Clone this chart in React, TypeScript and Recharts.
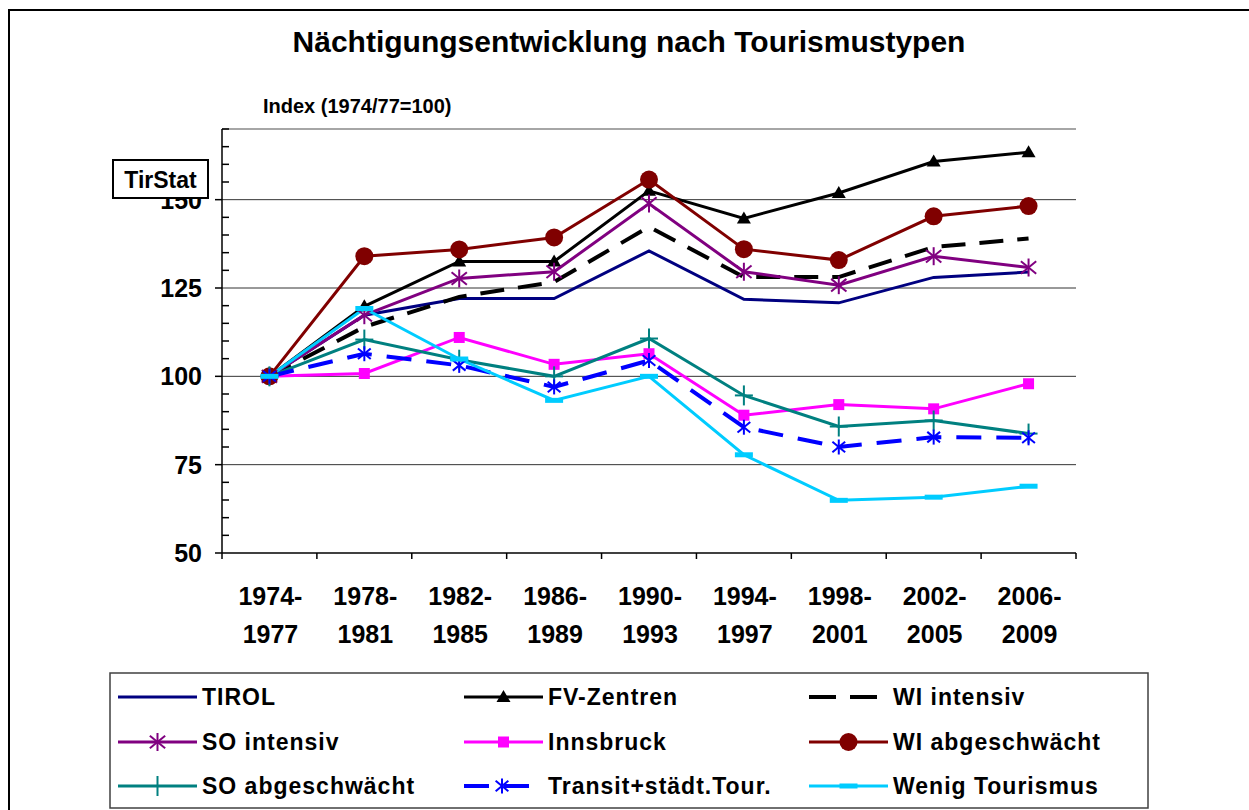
import React from 'react';
import { LineChart, Line, XAxis, YAxis, ReferenceLine } from 'recharts';

const periods = ['1974-1977', '1978-1981', '1982-1985', '1986-1989', '1990-1993', '1994-1997', '1998-2001', '2002-2005', '2006-2009'];

const tirol = [100, 117.3, 122, 122, 135.5, 121.8, 120.8, 128, 129.5];
const fvZentren = [100, 119.8, 132.5, 132.5, 152.5, 144.7, 151.9, 160.8, 163.4];
const wiIntensiv = [100, 114, 122.5, 126.7, 142.3, 128.1, 128.1, 136.6, 139];
const soIntensiv = [100, 117.3, 127.7, 129.6, 148.9, 129.6, 125.8, 134, 130.8];
const innsbruck = [100, 100.8, 111, 103.4, 106.4, 89, 92, 90.8, 97.9];
const wiAbgeschwaecht = [100, 134, 135.9, 139.3, 155.7, 136, 132.9, 145.3, 148.2];
const soAbgeschwaecht = [100, 110.4, 104.7, 100, 110.7, 94.6, 85.8, 87.5, 83.8];
const transit = [100, 106.4, 103.1, 97, 104.5, 85.6, 80, 82.8, 82.6];
const wenigTourismus = [100, 119.2, 104.9, 93.2, 100, 77.8, 64.9, 65.8, 68.9];

const yTicks = [50, 55, 60, 65, 70, 75, 80, 85, 90, 95, 100, 105, 110, 115, 120, 125, 130, 135, 140, 145, 150, 155, 160, 165, 170];
const yLabelTicks = [50, 75, 100, 125, 150];
const gridValues = [75, 100, 125, 150];
const yMax = 170;

const TITLE = 'Nächtigungsentwicklung nach Tourismustypen';
const SUBTITLE = 'Index (1974/77=100)';
const BADGE = 'TirStat';

type Series = { key: string; name: string; values: number[]; color: string; width: number; dash?: string; marker: string };

const series: Series[] = [
  { key: 'tirol', name: 'TIROL', values: tirol, color: '#000080', width: 3, marker: 'none' },
  { key: 'fv', name: 'FV-Zentren', values: fvZentren, color: '#000000', width: 3, marker: 'triangle' },
  { key: 'wiInt', name: 'WI intensiv', values: wiIntensiv, color: '#000000', width: 4, dash: '24 14', marker: 'none' },
  { key: 'soInt', name: 'SO intensiv', values: soIntensiv, color: '#800080', width: 3, marker: 'star' },
  { key: 'ibk', name: 'Innsbruck', values: innsbruck, color: '#FF00FF', width: 3, marker: 'square' },
  { key: 'wiAbg', name: 'WI abgeschwächt', values: wiAbgeschwaecht, color: '#800000', width: 3, marker: 'circle' },
  { key: 'soAbg', name: 'SO abgeschwächt', values: soAbgeschwaecht, color: '#008080', width: 3, marker: 'plus' },
  { key: 'transit', name: 'Transit+städt.Tour.', values: transit, color: '#0000FF', width: 4, dash: '25 15', marker: 'asterisk' },
  { key: 'wenig', name: 'Wenig Tourismus', values: wenigTourismus, color: '#00CCFF', width: 3, marker: 'dash' },
];

const data = periods.map((p, i) => {
  const row: Record<string, any> = { period: p };
  series.forEach((s) => { row[s.key] = s.values[i]; });
  return row;
});

const FONT = '"Liberation Sans", Arial, sans-serif';

function Marker({ type, cx, cy, color }: { type: string; cx: number; cy: number; color: string }) {
  if (cx == null || cy == null) return null;
  switch (type) {
    case 'triangle':
      return <polygon points={`${cx},${cy - 7} ${cx - 7},${cy + 5} ${cx + 7},${cy + 5}`} fill={color} />;
    case 'circle':
      return <circle cx={cx} cy={cy} r={9} fill={color} />;
    case 'square':
      return <rect x={cx - 5.5} y={cy - 5.5} width={11} height={11} fill={color} />;
    case 'star': {
      const r = 9;
      return (
        <g stroke={color} strokeWidth={2}>
          <line x1={cx} y1={cy - r} x2={cx} y2={cy + r} />
          <line x1={cx - r * 0.85} y1={cy - r * 0.7} x2={cx + r * 0.85} y2={cy + r * 0.7} />
          <line x1={cx - r * 0.85} y1={cy + r * 0.7} x2={cx + r * 0.85} y2={cy - r * 0.7} />
        </g>
      );
    }
    case 'asterisk': {
      const r = 7.5;
      return (
        <g stroke={color} strokeWidth={2}>
          <line x1={cx} y1={cy - r} x2={cx} y2={cy + r} />
          <line x1={cx - r * 0.85} y1={cy - r * 0.7} x2={cx + r * 0.85} y2={cy + r * 0.7} />
          <line x1={cx - r * 0.85} y1={cy + r * 0.7} x2={cx + r * 0.85} y2={cy - r * 0.7} />
        </g>
      );
    }
    case 'plus':
      return (
        <g stroke={color} strokeWidth={2}>
          <line x1={cx} y1={cy - 10} x2={cx} y2={cy + 10} />
          <line x1={cx - 9} y1={cy} x2={cx + 9} y2={cy} />
        </g>
      );
    case 'dash':
      return <rect x={cx - 9} y={cy - 2.5} width={18} height={5} fill={color} />;
    default:
      return null;
  }
}

const XTick = (props: any) => {
  const { x, y, payload, index } = props;
  const half = 854 / 18;
  const parts = String(payload.value).split('-');
  return (
    <g>
      {index === 0 && <line x1={x - half} y1={y} x2={x - half} y2={y + 6} stroke="#000" strokeWidth={1.5} />}
      <line x1={x + half} y1={y} x2={x + half} y2={y + 6} stroke="#000" strokeWidth={1.5} />
      <text x={x + 1} y={y + 52} textAnchor="middle" fontFamily={FONT} fontWeight="bold" fontSize={25} fill="#000">{parts[0] + '-'}</text>
      <text x={x + 1} y={y + 90} textAnchor="middle" fontFamily={FONT} fontWeight="bold" fontSize={25} fill="#000">{parts[1]}</text>
    </g>
  );
};

const YTick = (props: any) => {
  const { x, y, payload } = props;
  const v = payload.value;
  if (yLabelTicks.includes(v)) {
    return (
      <g>
        <line x1={x - 7} y1={y} x2={x} y2={y} stroke="#000" strokeWidth={1.5} />
        <text x={x - 20} y={y + 9} textAnchor="end" fontFamily={FONT} fontWeight="bold" fontSize={25} fill="#000">{v}</text>
      </g>
    );
  }
  return <line x1={x} y1={y} x2={x + 7} y2={y} stroke="#000" strokeWidth={1.5} />;
};

const legendCols = [118, 464, 809];
const legendTextCols = [202, 548, 893];
const legendRows = [697, 742, 786];

function LegendSample({ s, x, y }: { s: Series; x: number; y: number }) {
  const len = s.key === 'transit' ? 68 : 79;
  const cx = x + (s.key === 'transit' ? 38 : 39.5);
  return (
    <g>
      <line x1={x} y1={y} x2={x + len} y2={y} stroke={s.color} strokeWidth={s.width} strokeDasharray={s.key === 'wiInt' ? '27 14' : s.dash} />
      <Marker type={s.marker} cx={cx} cy={y} color={s.color} />
    </g>
  );
}

export default function App() {
  return (
    <div style={{ position: 'absolute', left: 0, top: 0, width: 1249, height: 810, overflow: 'hidden', background: '#fff' }}>
      <LineChart width={1249} height={810} data={data} margin={{ top: 129, right: 173, left: 162, bottom: 227 }}>
        <ReferenceLine y={yMax} stroke="#888" strokeWidth={1.5} />
        {gridValues.map((v) => (
          <ReferenceLine key={v} y={v} stroke="#333" strokeWidth={1} />
        ))}
        <XAxis
          dataKey="period"
          interval={0}
          padding={{ left: 854 / 18, right: 854 / 18 }}
          tickLine={false}
          tickSize={0}
          tickMargin={0}
          axisLine={{ stroke: '#000', strokeWidth: 1.5 }}
          tick={<XTick />}
          height={30}
        />
        <YAxis
          type="number"
          domain={[50, yMax]}
          ticks={yTicks}
          interval={0}
          tickLine={false}
          tickSize={0}
          tickMargin={0}
          axisLine={{ stroke: '#000', strokeWidth: 1.5 }}
          tick={<YTick />}
          width={60}
        />
        <YAxis
          yAxisId="frame"
          orientation="right"
          type="number"
          domain={[50, yMax]}
          tick={false}
          tickLine={false}
          axisLine={{ stroke: '#888', strokeWidth: 1.5 }}
          width={0}
        />
        {series.map((s) => (
          <Line
            key={s.key}
            dataKey={s.key}
            name={s.name}
            type="linear"
            stroke={s.color}
            strokeWidth={s.width}
            strokeDasharray={s.dash}
            isAnimationActive={false}
            activeDot={false}
            dot={(p: any) => <Marker key={`${s.key}-${p.index}`} type={s.marker} cx={p.cx} cy={p.cy} color={s.color} />}
          />
        ))}
      </LineChart>
      <svg width={1249} height={810} style={{ position: 'absolute', left: 0, top: 0, pointerEvents: 'none' }}>
        <rect x={9} y={10} width={1400} height={1000} fill="none" stroke="#000" strokeWidth={2} />
        <text x={629} y={52} textAnchor="middle" fontFamily={FONT} fontWeight="bold" fontSize={30} fill="#000">{TITLE}</text>
        <text x={263} y={113} fontFamily={FONT} fontWeight="bold" fontSize={20} fill="#000">{SUBTITLE}</text>
        <rect x={113} y={160} width={95} height={38} fill="#fff" stroke="#000" strokeWidth={2} />
        <text x={160.5} y={188} textAnchor="middle" fontFamily={FONT} fontWeight="bold" fontSize={23} fill="#000">{BADGE}</text>
        <rect x={110} y={673} width={1038} height={135} fill="#fff" stroke="#404040" strokeWidth={1.5} />
        {series.map((s, i) => {
          const col = i % 3;
          const row = Math.floor(i / 3);
          return (
            <g key={s.key}>
              <LegendSample s={s} x={legendCols[col]} y={legendRows[row]} />
              <text x={legendTextCols[col]} y={legendRows[row] + 8} fontFamily={FONT} fontWeight="bold" fontSize={23} letterSpacing={1} fill="#000">{s.name}</text>
            </g>
          );
        })}
      </svg>
    </div>
  );
}
